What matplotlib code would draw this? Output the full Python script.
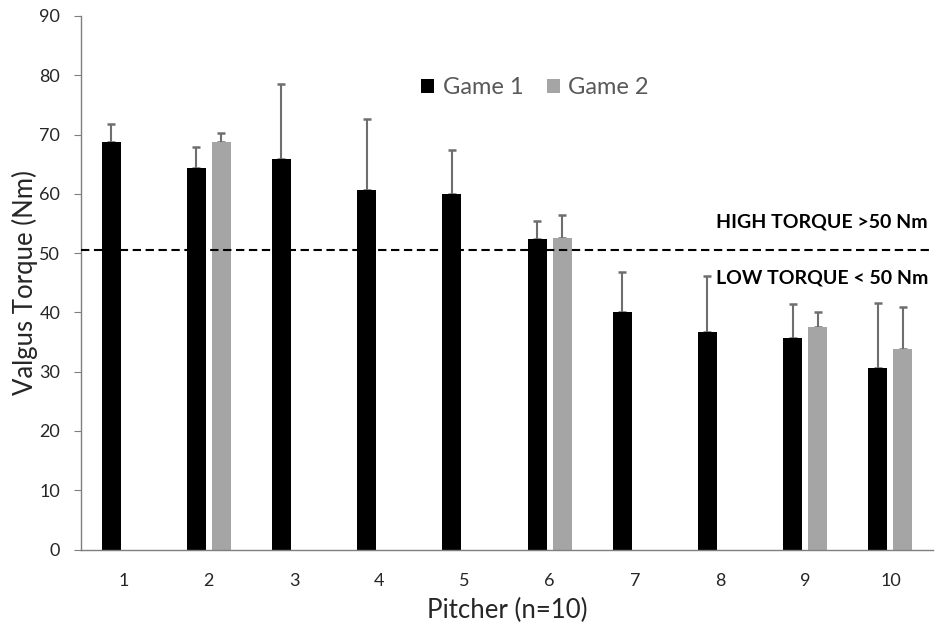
import numpy as np
import matplotlib
matplotlib.use("Agg")
import matplotlib.pyplot as plt
from matplotlib.patches import Patch

pitchers = ["1", "2", "3", "4", "5", "6", "7", "8", "9", "10"]
game1_mean = [68.8, 64.3, 65.9, 60.6, 60.0, 52.4, 40.1, 36.7, 35.6, 30.7]
game1_sd = [3.0, 3.6, 12.6, 12.1, 7.4, 3.1, 6.7, 9.4, 5.8, 10.8]
game2_mean = [np.nan, 68.7, np.nan, np.nan, np.nan, 52.5, np.nan, np.nan, 37.6, 33.8]
game2_sd = [np.nan, 1.6, np.nan, np.nan, np.nan, 4.0, np.nan, np.nan, 2.5, 7.1]
threshold = 50.5
yticks = [0, 10, 20, 30, 40, 50, 60, 70, 80, 90]

plt.rcParams['font.family'] = ['Lato', 'DejaVu Sans']

fig = plt.figure(figsize=(9.44, 6.33), dpi=100)
ax = fig.add_axes([81 / 944, 1 - 549.5 / 633, 852 / 944, 533.5 / 633])

x = np.arange(len(pitchers))
w = 0.223
off = 0.147
c1 = '#000000'
c2 = '#a5a5a5'
ecol = '#6e6e6e'

g1 = np.array(game1_mean)
g2 = np.array(game2_mean)
s1 = np.array(game1_sd)
s2 = np.array(game2_sd)

ax.bar(x - off, g1, width=w, color=c1, zorder=2)
ax.bar(x + off, g2, width=w, color=c2, zorder=2)
ax.errorbar(x - off, g1, yerr=[np.zeros_like(s1), s1], fmt='none',
            ecolor=ecol, elinewidth=1.5, capsize=3, capthick=1.8, zorder=1)
m = ~np.isnan(g2)
ax.errorbar((x + off)[m], g2[m], yerr=[np.zeros(m.sum()), s2[m]], fmt='none',
            ecolor=ecol, elinewidth=1.5, capsize=3, capthick=1.8, zorder=1)

ax.axhline(threshold, color='black', linestyle=(0, (4, 2.2)), linewidth=1.5, zorder=3)

ax.set_xlim(-0.5, len(pitchers) - 0.5)
ax.set_ylim(0, 90)
ax.set_yticks(yticks)
ax.set_xticks(x)
ax.set_xticklabels(pitchers)

for sp in ['top', 'right']:
    ax.spines[sp].set_visible(False)
for sp in ['left', 'bottom']:
    ax.spines[sp].set_color('#7f7f7f')
    ax.spines[sp].set_linewidth(1.0)

ax.tick_params(axis='y', direction='out', length=5, color='#7f7f7f',
               labelsize=13, labelcolor='#262626', pad=10)
ax.tick_params(axis='x', length=0, labelsize=13, labelcolor='#262626', pad=17)

ax.set_ylabel('Valgus Torque (Nm)', fontsize=18.5, color='#262626', labelpad=1)
ax.set_xlabel('Pitcher (n=10)', fontsize=18.5, color='#262626', labelpad=6)

ax.text(0.994, 55.2, 'HIGH TORQUE >50 Nm', transform=ax.get_yaxis_transform(),
        ha='right', va='center', fontsize=14, fontweight='bold', color='#000000')
ax.text(0.994, 45.8, 'LOW TORQUE < 50 Nm', transform=ax.get_yaxis_transform(),
        ha='right', va='center', fontsize=14, fontweight='bold', color='#000000')

handles = [Patch(facecolor=c1, label='Game 1'), Patch(facecolor=c2, label='Game 2')]
fig.legend(handles=handles, loc='center', bbox_to_anchor=(535 / 944, 1 - 88 / 633),
           ncol=2, frameon=False, fontsize=17, handlelength=0.55, handleheight=0.55,
           handletextpad=0.35, columnspacing=1.0, labelcolor='#595959')

fig.savefig('out.png', dpi=100)
